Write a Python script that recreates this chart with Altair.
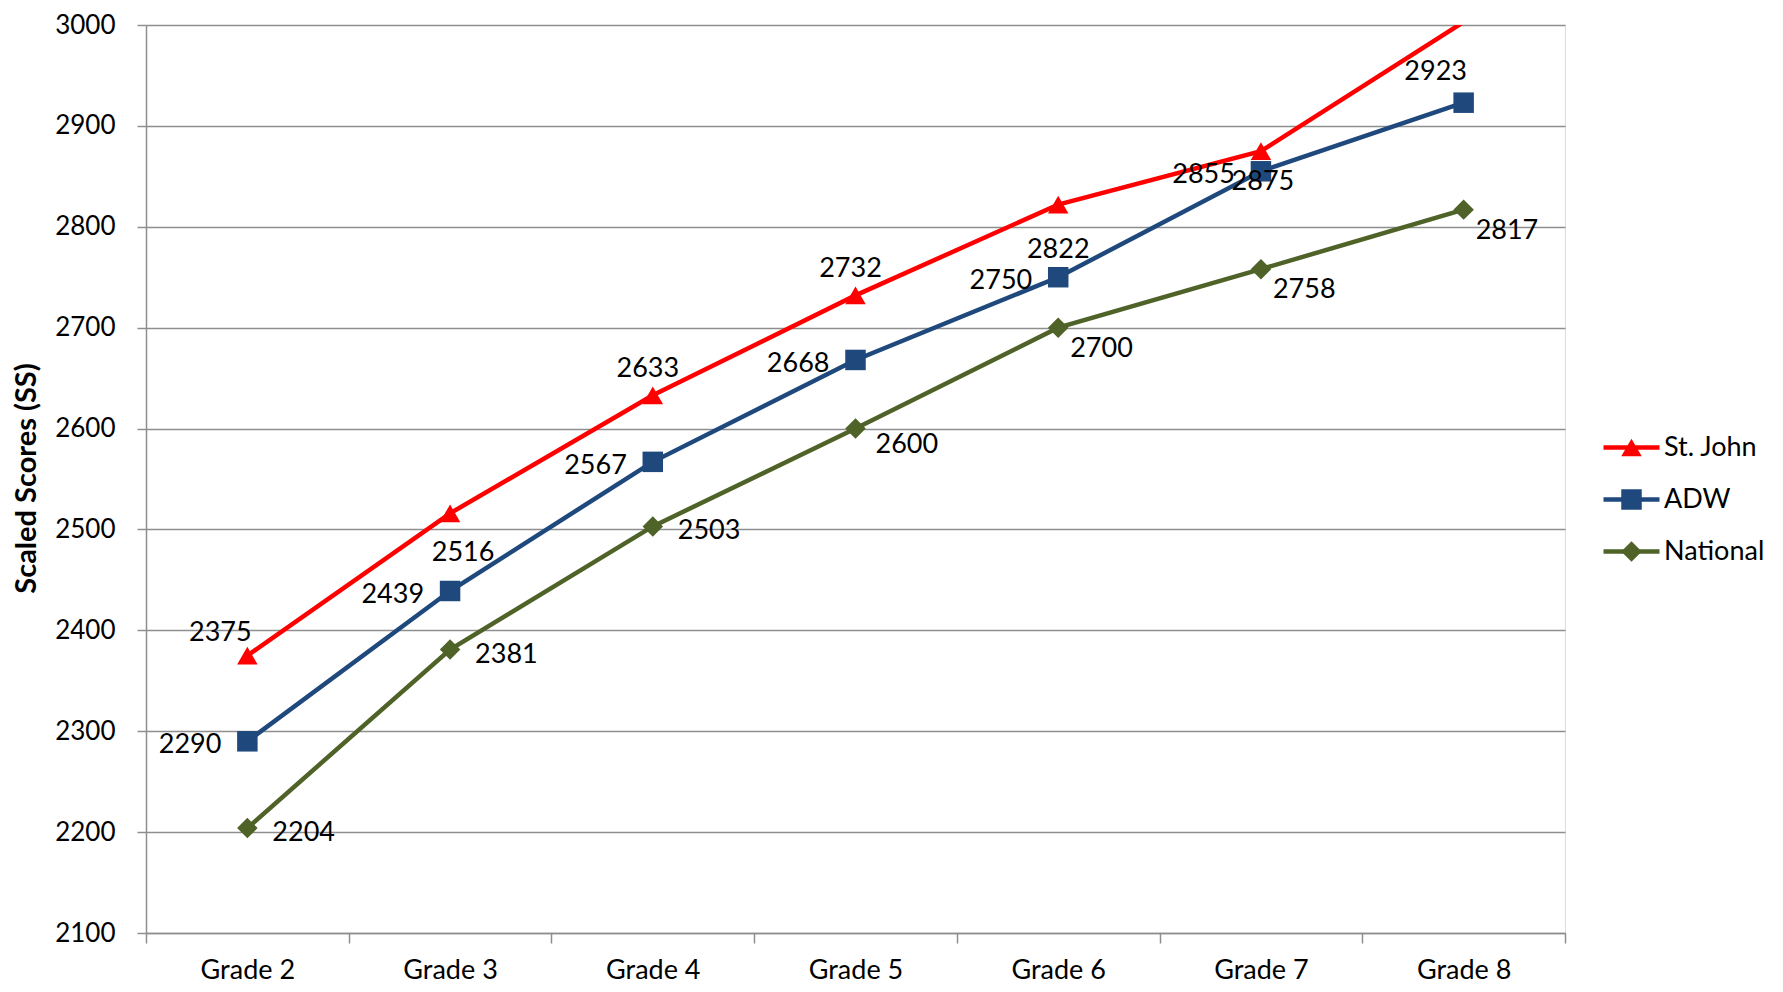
import altair as alt
import pandas as pd

grades = ["Grade 2", "Grade 3", "Grade 4", "Grade 5", "Grade 6", "Grade 7", "Grade 8"]
st_john = [2375, 2516, 2633, 2732, 2822, 2875, 3003]
adw = [2290, 2439, 2567, 2668, 2750, 2855, 2923]
national = [2204, 2381, 2503, 2600, 2700, 2758, 2817]
series_names = ["St. John", "ADW", "National"]
series_colors = ["#FF0000", "#1F497D", "#4F6228"]
series_shapes = ["triangle-up", "square", "diamond"]
y_ticks = list(range(2100, 3001, 100))

rows = []
for name, vals in zip(series_names, [st_john, adw, national]):
    for g, v in zip(grades, vals):
        rows.append({"grade": g, "value": v, "series": name, "series_pt": name})
df = pd.DataFrame(rows)

FONT = "Lato"
GRID = "#8E8E8E"

x_enc = alt.X(
    "grade:N", sort=grades, title=None,
    scale=alt.Scale(type="band", paddingInner=0, paddingOuter=0),
    axis=alt.Axis(labelFont=FONT, labelFontSize=27, labelColor="black", labelAngle=0,
                  tickBand="extent", tickSize=10, tickColor=GRID, tickWidth=1.5,
                  domainColor=GRID, domainWidth=1.5, labelPadding=14, grid=False),
)
y_enc = alt.Y(
    "value:Q", title="Scaled Scores (SS)",
    scale=alt.Scale(domain=[2100, 3000], nice=False, zero=False),
    axis=alt.Axis(values=y_ticks, format="d", labelFont=FONT, labelFontSize=26, labelColor="black",
                  tickSize=9, tickColor=GRID, tickWidth=1.5, domainColor=GRID, domainWidth=1.5,
                  gridColor=GRID, gridWidth=1.5, labelPadding=22,
                  titleFont=FONT, titleFontSize=29, titleFontWeight="bold", titleColor="black",
                  titleAngle=270, titleX=-120, titleY=453, titleAlign="center", titleBaseline="middle"),
)

base = alt.Chart(df)

line_legend = alt.Legend(orient="none", legendX=1472, legendY=409, title=None,
                         symbolType="M-2.8,0L2.8,0", symbolSize=400, symbolStrokeWidth=4.5,
                         labelFont=FONT, labelFontSize=27, labelColor="black", labelOffset=19,
                         rowPadding=24, padding=0)
pt_legend = alt.Legend(orient="none", legendX=1472, legendY=409, title=None,
                       symbolSize=420, symbolStrokeWidth=0,
                       labelFont=FONT, labelFontSize=27, labelOffset=19, labelOpacity=0,
                       rowPadding=24, padding=0)

lines = base.mark_line(strokeWidth=4.5, clip=True).encode(
    x=x_enc, y=y_enc,
    color=alt.Color("series:N", scale=alt.Scale(domain=series_names, range=series_colors), legend=line_legend),
    detail="series:N",
)

points = base.transform_filter(alt.datum.value <= 3000).mark_point(filled=True, opacity=1, size=420).encode(
    x=x_enc, y=y_enc,
    fill=alt.Fill("series_pt:N", scale=alt.Scale(domain=series_names, range=series_colors), legend=pt_legend),
    shape=alt.Shape("series_pt:N", scale=alt.Scale(domain=series_names, range=series_shapes), legend=pt_legend),
)


def labels(series, grade_list, dx, dy, align):
    return base.transform_filter(alt.datum.series == series).transform_filter(
        alt.FieldOneOfPredicate(field="grade", oneOf=grade_list)
    ).transform_filter(alt.datum.value <= 3000).mark_text(
        dx=dx, dy=dy + 3, align=align, baseline="middle", font=FONT, fontSize=27, color="black"
    ).encode(x=x_enc, y=y_enc, text=alt.Text("value:Q", format="d"))


text_layers = [
    labels("St. John", ["Grade 2"], -27, -26, "center"),
    labels("St. John", ["Grade 4", "Grade 5"], -5, -29, "center"),
    labels("St. John", ["Grade 3"], 13, 37, "center"),
    labels("St. John", ["Grade 6"], 0, 42, "center"),
    labels("St. John", ["Grade 7"], 2, 28, "center"),
    labels("ADW", grades[:6], -26, 1, "right"),
    labels("ADW", ["Grade 8"], -28, -34, "center"),
    labels("National", ["Grade 2", "Grade 3", "Grade 4"], 25, 2, "left"),
    labels("National", ["Grade 5"], 20, 13, "left"),
    labels("National", ["Grade 6", "Grade 7", "Grade 8"], 12, 18, "left"),
]

chart = alt.layer(lines, points, *text_layers).resolve_scale(
    color="independent", fill="independent", shape="independent"
).properties(
    width=1419, height=908,
    autosize=alt.AutoSizeParams(type="none"),
    padding={"left": 138, "top": 17, "right": 210, "bottom": 51},
).configure_view(stroke=None).configure(background="white")

chart.save("out.html", embed_options={"renderer": "svg", "actions": False})
